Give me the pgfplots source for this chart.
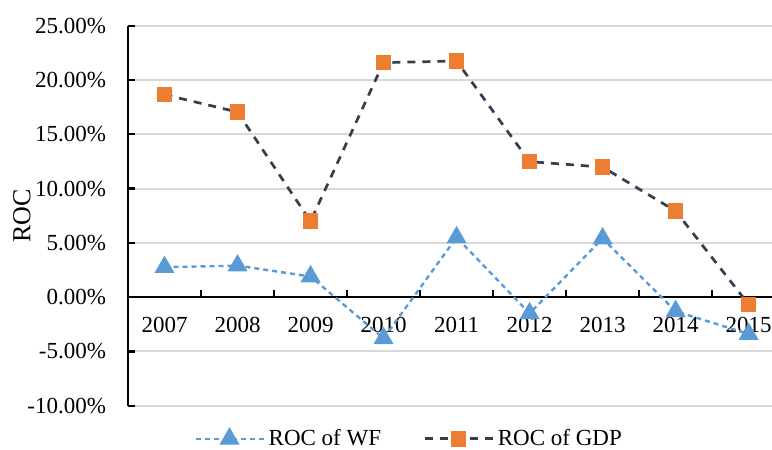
\documentclass[border=0pt]{standalone}
\usepackage{fontspec}
\setmainfont{Liberation Serif}
\usepackage{pgfplots}
\pgfplotsset{compat=1.18}
\definecolor{wfblue}{HTML}{5B9BD5}
\definecolor{gdporange}{HTML}{ED7D31}
\definecolor{gdpline}{HTML}{323F4F}
\definecolor{gridgray}{HTML}{D9D9D9}
\begin{document}
\begin{tikzpicture}
\begin{axis}[
  set layers,
  scale only axis,
  width=322pt, height=190pt,
  xmin=-0.5, xmax=8.32,
  ymin=-10, ymax=25,
  axis x line*=middle,
  axis y line*=left,
  hide obscured x ticks=false,
  hide obscured y ticks=false,
  axis line style={black, line width=1.2pt},
  xtick={0,1,2,3,4,5,6,7,8},
  xticklabels={2007,2008,2009,2010,2011,2012,2013,2014,2015},
  ytick={-10,-5,0,5,10,15,20,25},
  yticklabels={-10.00\%,-5.00\%,0.00\%,5.00\%,10.00\%,15.00\%,20.00\%,25.00\%},
  minor xtick={-0.5,0.5,1.5,2.5,3.5,4.5,5.5,6.5,7.5},
  minor ytick={-10,-5,0,5,10,15,20,25},
  major tick length=0pt,
  minor tick length=3.5pt,
  tick align=inside,
  minor tick style={black, line width=1.1pt},
  ymajorgrids,
  major grid style={gridgray, line width=1pt},
  tick label style={font=\fontsize{11.5}{13}\selectfont},
  xticklabel style={anchor=north, yshift=-6.5pt},
  yticklabel style={anchor=east, xshift=-7.5pt},
  ylabel={ROC},
  every axis y label/.style={at={(axis description cs:-0.1646,0.5)}, rotate=90, anchor=center, font=\fontsize{13}{15}\selectfont},
  legend columns=2,
  legend style={draw=none, fill=none, at={(axis description cs:0.438,-0.087)}, anchor=center,
    inner sep=1pt,
    font=\fontsize{11.5}{13}\selectfont,
    /tikz/every even column/.append style={column sep=19pt}},
  legend image code/.code={\draw[mark repeat=2,mark phase=2,#1] plot coordinates {(0pt,0pt) (17pt,0pt) (34pt,0pt)};},
]
\addplot[wfblue, line width=1.2pt, dash pattern=on 2.5pt off 2pt,
  mark=triangle*, mark size=4.6pt, mark options={solid, fill=wfblue, draw=wfblue}]
  coordinates {(0,2.76) (1,2.9) (2,1.9) (3,-3.8) (4,5.5) (5,-1.5) (6,5.4) (7,-1.3) (8,-3.4)};
\addlegendentry{ROC of WF}
\addplot[gdpline, line width=1.35pt, dash pattern=on 4pt off 3.5pt,
  mark=square*, mark size=3.25pt, mark options={solid, fill=gdporange, draw=gdporange}]
  coordinates {(0,18.65) (1,17.05) (2,6.98) (3,21.6) (4,21.75) (5,12.48) (6,11.98) (7,7.93) (8,-0.67)};
\addlegendentry{ROC of GDP}
\end{axis}
\pgfresetboundingbox
\path[use as bounding box] (-64pt,-22.15pt) rectangle (322pt,202.85pt);
\end{tikzpicture}
\end{document}
